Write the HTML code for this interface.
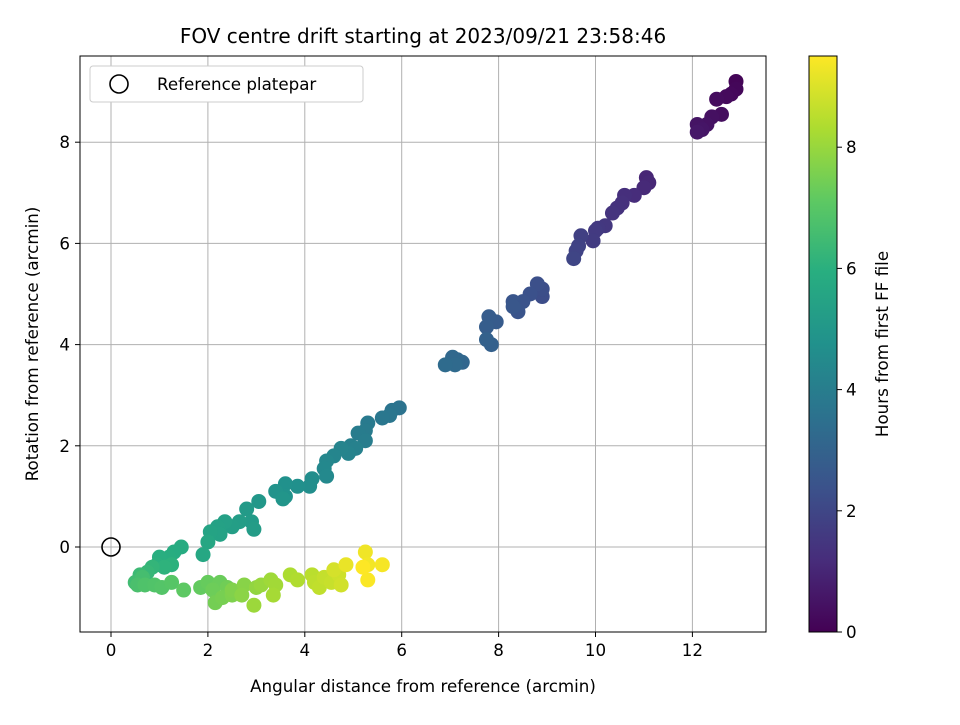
<!DOCTYPE html>
<html><head><meta charset="utf-8"><style>
body{margin:0;background:#fff;}
svg text{font-family:"DejaVu Sans","Liberation Sans",sans-serif;fill:#000;}
</style></head><body>
<svg id="chart" width="960" height="720" xmlns="http://www.w3.org/2000/svg">
<defs>
<linearGradient id="vir" x1="0" y1="1" x2="0" y2="0">
<stop offset="0" stop-color="#440154"/><stop offset="0.125" stop-color="#472d7b"/><stop offset="0.25" stop-color="#3b528b"/><stop offset="0.375" stop-color="#2c728e"/><stop offset="0.5" stop-color="#21918c"/><stop offset="0.625" stop-color="#28ae80"/><stop offset="0.75" stop-color="#5ec962"/><stop offset="0.875" stop-color="#addc30"/><stop offset="1" stop-color="#fde725"/>
</linearGradient>
<clipPath id="pc"><rect x="80" y="56" width="686" height="576"/></clipPath>
</defs>
<text x="423" y="43" font-size="20" text-anchor="middle">FOV centre drift starting at 2023/09/21 23:58:46</text>
<g id="grid"></g>
<g id="pts" clip-path="url(#pc)"></g>
<circle id="refc" r="9" fill="none" stroke="#000" stroke-width="1.6"/>
<rect x="80" y="56" width="686" height="576" fill="none" stroke="#000" stroke-width="1"/>
<g id="axes"></g>
<text x="423" y="692" font-size="16.7" text-anchor="middle">Angular distance from reference (arcmin)</text>
<text transform="translate(38,344) rotate(-90)" font-size="16.7" text-anchor="middle">Rotation from reference (arcmin)</text>
<g>
<rect x="90" y="66" width="273" height="36" rx="3" fill="#fff" stroke="#ccc"/>
<circle cx="119" cy="84" r="9" fill="none" stroke="#000" stroke-width="1.6"/>
<text x="157" y="90" font-size="16.7">Reference platepar</text>
</g>
<rect x="809" y="56" width="28" height="576" fill="url(#vir)" stroke="#000" stroke-width="1"/>
<g id="cbar"></g>
<text transform="translate(888,344) rotate(-90)" font-size="16.7" text-anchor="middle">Hours from first FF file</text>
</svg>
<script>
const xs=[12.9,12.9,12.8,12.7,12.5,12.6,12.4,12.3,12.1,12.2,12.1,11.05,11.1,11.0,10.8,10.6,10.55,10.45,10.35,10.2,10.05,10.0,9.95,9.7,9.65,9.6,9.55,8.9,8.9,8.8,8.65,8.5,8.4,8.3,8.3,7.95,7.8,7.75,7.85,7.75,7.25,7.15,7.05,7.1,6.9,5.95,5.8,5.75,5.6,5.3,5.25,5.1,5.25,4.95,5.05,4.9,4.75,4.6,4.45,4.4,4.45,4.15,4.1,3.85,3.6,3.6,3.4,3.55,3.05,2.8,2.9,2.95,2.65,2.5,2.35,2.2,2.25,2.05,2.0,1.9,1.45,1.3,1.2,1.0,0.95,1.25,1.1,0.85,0.75,0.6,0.5,0.65,0.55,0.7,0.9,1.05,1.25,1.5,1.85,2.0,2.25,2.1,2.4,2.15,2.3,2.5,2.5,2.75,2.7,3.0,3.1,2.95,3.3,3.4,3.35,3.7,3.85,4.15,4.2,4.3,4.4,4.55,4.7,4.75,4.6,4.85,5.25,5.3,5.6,5.3,5.2];
const ys=[9.2,9.05,8.95,8.9,8.85,8.55,8.5,8.35,8.35,8.25,8.2,7.3,7.2,7.1,6.95,6.95,6.8,6.7,6.6,6.35,6.3,6.25,6.05,6.15,5.95,5.85,5.7,4.95,5.1,5.2,5.0,4.85,4.65,4.85,4.75,4.45,4.55,4.35,4.0,4.1,3.65,3.7,3.75,3.6,3.6,2.75,2.7,2.6,2.55,2.45,2.3,2.25,2.1,2.0,1.95,1.85,1.95,1.8,1.7,1.55,1.4,1.35,1.2,1.2,1.25,1.0,1.1,0.95,0.9,0.75,0.5,0.35,0.5,0.4,0.5,0.4,0.25,0.3,0.1,-0.15,0.0,-0.1,-0.2,-0.2,-0.35,-0.35,-0.4,-0.4,-0.5,-0.55,-0.7,-0.6,-0.75,-0.75,-0.75,-0.8,-0.7,-0.85,-0.8,-0.7,-0.7,-0.85,-0.8,-1.1,-1.0,-0.95,-0.85,-0.75,-0.95,-0.8,-0.75,-1.15,-0.65,-0.75,-0.95,-0.55,-0.65,-0.55,-0.7,-0.8,-0.6,-0.7,-0.55,-0.75,-0.45,-0.35,-0.1,-0.35,-0.35,-0.65,-0.4];
const hours=[0.1,0.15,0.2,0.25,0.3,0.35,0.4,0.45,0.5,0.55,0.6,1.0,1.05,1.1,1.2,1.25,1.3,1.35,1.4,1.5,1.55,1.6,1.65,1.8,1.85,1.9,1.95,2.2,2.25,2.3,2.35,2.4,2.45,2.5,2.55,2.7,2.75,2.8,2.9,2.95,3.1,3.15,3.2,3.25,3.3,3.6,3.65,3.7,3.75,3.85,3.9,3.95,4.0,4.1,4.15,4.2,4.25,4.3,4.35,4.4,4.45,4.6,4.65,4.7,4.75,4.8,4.85,4.9,5.0,5.1,5.15,5.2,5.25,5.3,5.35,5.4,5.45,5.5,5.6,5.65,5.8,5.85,5.9,5.95,6.0,6.05,6.1,6.2,6.3,6.4,6.5,6.6,6.7,6.8,6.85,6.9,6.95,7.1,7.2,7.25,7.3,7.35,7.4,7.45,7.5,7.6,7.65,7.75,7.8,7.9,8.0,8.05,8.1,8.15,8.2,8.3,8.35,8.5,8.55,8.6,8.65,8.7,8.8,8.85,8.9,9.2,9.3,9.35,9.4,9.45,9.5];
const xTicks=[0,2,4,6,8,10,12];
const yTicks=[0,2,4,6,8];
const cTicks=[0,2,4,6,8];
const X=v=>111+v*48.45, Y=v=>547-v*50.6, C=v=>632-v*60.6, HMAX=9.5;
const NS="http://www.w3.org/2000/svg";
function mk(t,a,p){const e=document.createElementNS(NS,t);for(const k in a)e.setAttribute(k,a[k]);p.appendChild(e);return e;}
const vir=[[68,1,84],[71,45,123],[59,82,139],[44,114,142],[33,145,140],[40,174,128],[94,201,98],[173,220,48],[253,231,37]];
function col(t){const f=Math.max(0,Math.min(1,t/HMAX))*8,i=Math.min(7,Math.floor(f)),r=f-i;const c=vir[i].map((v,k)=>Math.round(v+(vir[i+1][k]-v)*r));return `rgb(${c})`;}
const g=document.getElementById('grid'),ax=document.getElementById('axes'),pts=document.getElementById('pts'),cb=document.getElementById('cbar');
xTicks.forEach(v=>{const l=mk('line',{x1:X(v),x2:X(v),y1:56,y2:632,stroke:'#b0b0b0','stroke-width':1},g);
const t=mk('line',{x1:X(v),x2:X(v),y1:632,y2:637,stroke:'#000'},ax);
const s=mk('text',{x:X(v),y:656,'font-size':16.7,'text-anchor':'middle'},ax);s.textContent=v;});
yTicks.forEach(v=>{const l=mk('line',{x1:80,x2:766,y1:Y(v),y2:Y(v),stroke:'#b0b0b0','stroke-width':1},g);
const t=mk('line',{x1:75,x2:80,y1:Y(v),y2:Y(v),stroke:'#000'},ax);
const s=mk('text',{x:70,y:Y(v)+6,'font-size':16.7,'text-anchor':'end'},ax);s.textContent=v;});
xs.forEach((x,i)=>{const c=mk('circle',{cx:X(x),cy:Y(ys[i]),r:7.5,fill:col(hours[i])},pts);});
const rc=document.getElementById('refc');rc.setAttribute('cx',X(0));rc.setAttribute('cy',Y(0));
cTicks.forEach(v=>{const t=mk('line',{x1:837,x2:842,y1:C(v),y2:C(v),stroke:'#000'},cb);
const s=mk('text',{x:846,y:C(v)+6,'font-size':16.7},cb);s.textContent=v;});
</script>
</body></html>
